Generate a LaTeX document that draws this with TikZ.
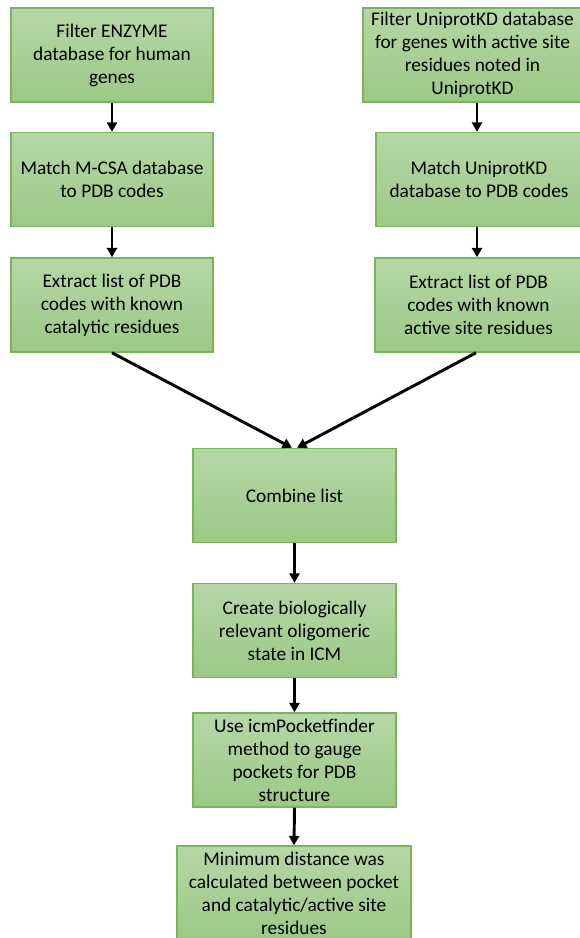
\documentclass[tikz,border=0pt]{standalone}
\usepackage{fontspec}
\setmainfont{Carlito}
\usepackage{tikz}
\usetikzlibrary{arrows.meta}
\definecolor{boxtop}{HTML}{B5D7A6}
\definecolor{boxbot}{HTML}{9CC985}
\definecolor{boxedge}{HTML}{7AB55C}

\begin{document}
\begin{tikzpicture}[x=0.75pt,y=-0.75pt,
 stepbox/.style={draw=boxedge,line width=1.1pt,top color=boxtop,bottom color=boxbot,
 align=center,inner sep=1pt,font=\fontsize{14.5}{17.25}\selectfont,
 minimum width=#1*0.75pt,minimum height=70.5pt},
 flow/.style={line width=2.2pt,-{Triangle[width=7.5pt,length=7pt]}}]
 \useasboundingbox (0,0) rectangle (579,938);
 \node[stepbox=202] (enz) at (112,55) {Filter ENZYME\\database for human\\genes};
 \node[stepbox=202] (mcsa) at (112,179.5) {Match M-CSA database\\to PDB codes};
 \node[stepbox=202] (catl) at (112,305) {Extract list of PDB\\codes with known\\catalytic residues};
 \node[stepbox=219] (uni) at (472.5,55) {Filter UniprotKD database\\for genes with active site\\residues noted in\\UniprotKD};
 \node[stepbox=206] (unipdb) at (479,179.5) {Match UniprotKD\\database to PDB codes};
 \node[stepbox=207] (actl) at (478.5,305) {Extract list of PDB\\codes with known\\active site residues};
 \node[stepbox=203] (comb) at (294.5,495.5) {Combine list};
 \node[stepbox=203] (olig) at (294.5,630.5) {Create biologically\\relevant oligomeric\\state in ICM};
 \node[stepbox=203] (pock) at (294.5,760) {Use icmPocketfinder\\method to gauge\\pockets for PDB\\structure};
 \node[stepbox=234] (dist) at (294,893) {Minimum distance was\\calculated between pocket\\and catalytic/active site\\residues};
 \draw[flow] (enz.south) -- (mcsa.north);
 \draw[flow] (mcsa.south) -- (catl.north);
 \draw[flow] ([xshift=-1.5pt]unipdb.north|-uni.south) -- ([xshift=-1.5pt]unipdb.north);
 \draw[flow] ([xshift=-1.5pt]unipdb.south) -- ([xshift=-1.5pt]unipdb.south|-actl.north);
 \draw[flow] (catl.south) -- ([xshift=-1.9pt]comb.north);
 \draw[flow] ([xshift=-1.9pt]actl.south) -- ([xshift=1.9pt]comb.north);
 \draw[flow] (comb.south) -- (olig.north);
 \draw[flow] (olig.south) -- (pock.north);
 \draw[flow] (pock.south) -- (dist.north);
\end{tikzpicture}
\end{document}
